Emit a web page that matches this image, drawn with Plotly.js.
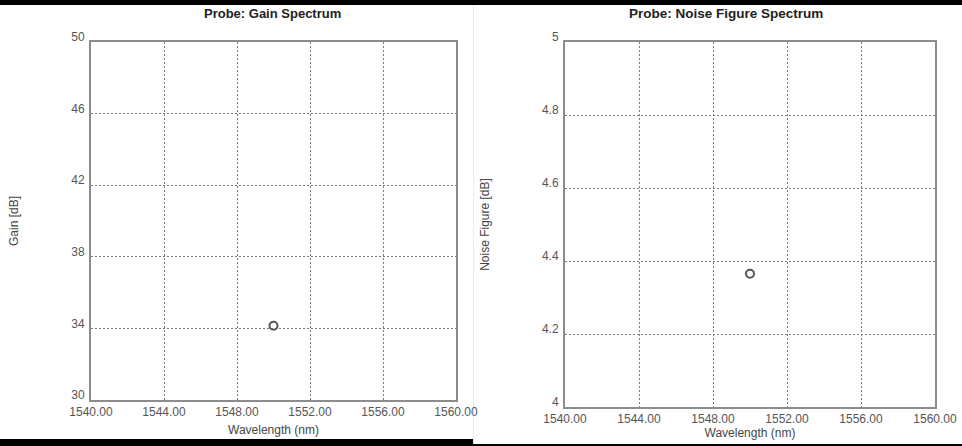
<!DOCTYPE html>
<html>
<head>
<meta charset="utf-8">
<script src="https://cdn.plot.ly/plotly-3.0.1.min.js"></script>
<style>
  html, body { margin: 0; padding: 0; background: #ffffff; }
  #chart { width: 962px; height: 446px; }
</style>
</head>
<body>
<div id="chart"></div>
<script>
// ---- data ----
const gainWavelength = [1550.0];
const gainValues = [34.15];
const nfWavelength = [1550.0];
const nfValues = [4.365];

const xTickVals = [1540, 1544, 1548, 1552, 1556, 1560];
const gainTickVals = [30, 34, 38, 42, 46, 50];
const nfTickVals = [4, 4.2, 4.4, 4.6, 4.8, 5];

const titles = ['Probe: Gain Spectrum', 'Probe: Noise Figure Spectrum'];
const xTitle = 'Wavelength (nm)';
const yTitles = ['Gain [dB]', 'Noise Figure [dB]'];

// ---- layout helpers ----
const W = 962, H = 446;
const px = v => v / W;
const py = v => 1 - v / H;

const FONT = 'Liberation Sans, Arial, sans-serif';
const gridColor = '#7a7a7a';
const lineColor = '#8c8c8c';
const tickFont = { family: FONT, size: 12, color: '#555555' };
const axTitleFont = { family: FONT, size: 12, color: '#444444' };

const markerStyle = {
  symbol: 'circle-open',
  size: 8,
  color: '#555555',
  line: { width: 2, color: '#555555' }
};

const traces = [
  { x: gainWavelength, y: gainValues, xaxis: 'x', yaxis: 'y', type: 'scatter',
    mode: 'markers', marker: markerStyle, hoverinfo: 'x+y' },
  { x: nfWavelength, y: nfValues, xaxis: 'x2', yaxis: 'y2', type: 'scatter',
    mode: 'markers', marker: markerStyle, hoverinfo: 'x+y' }
];

function xAxis(domain, anchor, standoff) {
  return {
    domain: domain, anchor: anchor, range: [1540, 1560],
    tickvals: xTickVals, tickformat: '.2f',
    showgrid: true, gridcolor: gridColor, griddash: '2px,2px', gridwidth: 1,
    zeroline: false, showline: true, mirror: true, linecolor: lineColor, linewidth: 2,
    ticks: '', tickfont: tickFont, fixedrange: true,
    title: { text: xTitle, font: axTitleFont, standoff: standoff }
  };
}
function yAxis(domain, anchor, range, vals, title) {
  return {
    domain: domain, anchor: anchor, range: range, tickvals: vals,
    showgrid: true, gridcolor: gridColor, griddash: '2px,2px', gridwidth: 1,
    zeroline: false, showline: true, mirror: true, linecolor: lineColor, linewidth: 2,
    ticks: '', tickfont: tickFont, ticklabelshift: -5, ticklabelstandoff: 2, fixedrange: true,
    title: { text: title, font: axTitleFont, standoff: 50 }
  };
}

const layout = {
  width: W, height: H,
  margin: { l: 0, r: 0, t: 0, b: 0 },
  paper_bgcolor: '#ffffff', plot_bgcolor: '#ffffff',
  showlegend: false,
  font: { family: FONT },
  xaxis: xAxis([px(91), px(456)], 'y', 7),
  yaxis: yAxis([py(400), py(42)], 'x', [30, 50], gainTickVals, yTitles[0]),
  xaxis2: xAxis([px(565), px(935)], 'y2', 3),
  yaxis2: yAxis([py(407), py(42)], 'x2', [4, 5], nfTickVals, yTitles[1]),
  annotations: [
    { text: '<b>' + titles[0] + '</b>', xref: 'paper', yref: 'paper',
      x: px(272), y: py(14), xanchor: 'center', yanchor: 'middle', showarrow: false,
      font: { family: FONT, size: 13, color: '#222222' } },
    { text: '<b>' + titles[1] + '</b>', xref: 'paper', yref: 'paper',
      x: px(726), y: py(14), xanchor: 'center', yanchor: 'middle', showarrow: false,
      font: { family: FONT, size: 13.5, color: '#222222' } }
  ],
  shapes: [
    { type: 'rect', xref: 'paper', yref: 'paper', x0: 0, x1: 1, y0: py(5), y1: 1,
      fillcolor: '#000000', line: { width: 0 }, layer: 'above' },
    { type: 'rect', xref: 'paper', yref: 'paper', x0: 0, x1: px(473), y0: 0, y1: py(439),
      fillcolor: '#000000', line: { width: 0 }, layer: 'above' },
    { type: 'rect', xref: 'paper', yref: 'paper', x0: px(473), x1: 1, y0: 0, y1: py(444),
      fillcolor: '#000000', line: { width: 0 }, layer: 'above' },
    { type: 'line', xref: 'paper', yref: 'paper', x0: px(473.5), x1: px(473.5), y0: py(444), y1: py(5),
      line: { width: 1, color: '#ececec' }, layer: 'below' }
  ]
};

Plotly.newPlot('chart', traces, layout, { displayModeBar: false, staticPlot: true });
</script>
</body>
</html>
